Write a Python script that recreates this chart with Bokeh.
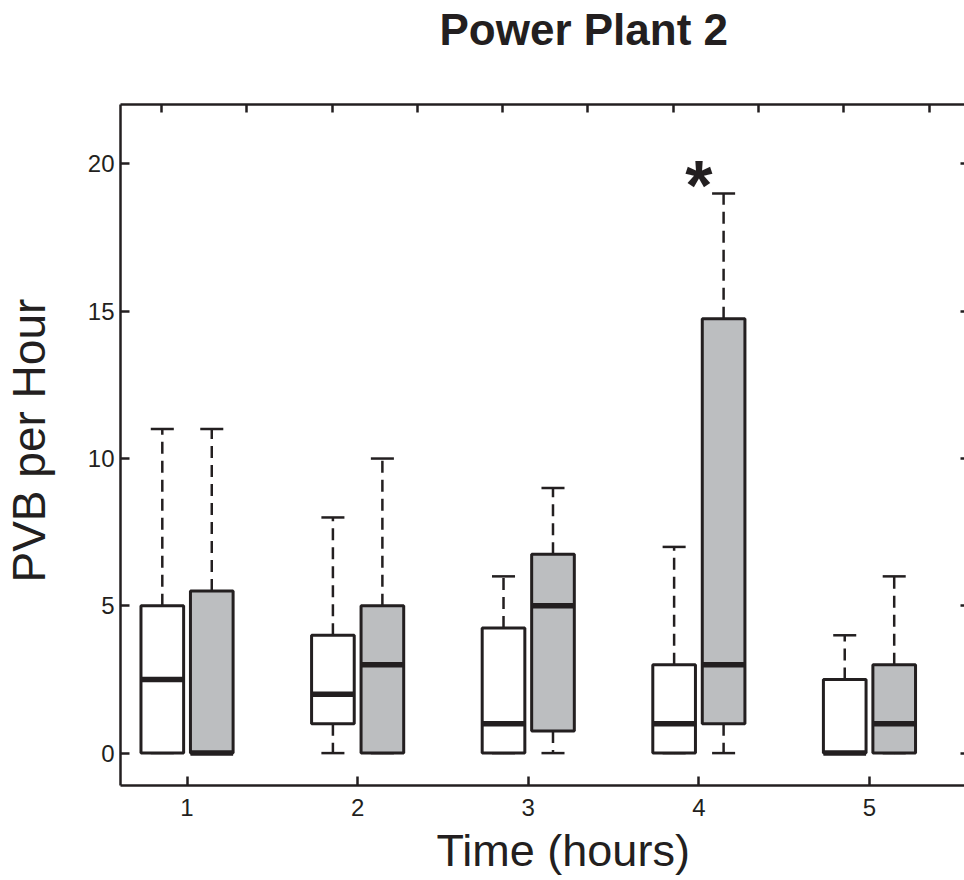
from bokeh.plotting import figure
from bokeh.models import LinearAxis, FixedTicker, Title, Range1d, ColumnDataSource
from bokeh.core.properties import value
from bokeh.embed import file_html
from bokeh.resources import INLINE

# ---- data ----
hours = [1, 2, 3, 4, 5]
# first (white) series
white_min = [0, 0, 0, 0, 0]
white_q1 = [0, 1, 0, 0, 0]
white_med = [2.5, 2, 1, 1, 0]
white_q3 = [5, 4, 4.25, 3, 2.5]
white_max = [11, 8, 6, 7, 4]
# second (grey) series
grey_min = [0, 0, 0, 0, 0]
grey_q1 = [0, 0, 0.75, 1, 0]
grey_med = [0, 3, 5, 3, 1]
grey_q3 = [5.5, 5, 6.75, 14.75, 3]
grey_max = [11, 10, 9, 19, 6]
y_ticks = [0, 5, 10, 15, 20]
top_ticks = [0.85, 1.35, 1.85, 2.35, 2.85, 3.35, 3.85, 4.35, 4.85, 5.35]
sig_hour = 4

# ---- styling ----
INK = "#231f20"
GREY = "#bcbec0"
FONT = "Liberation Sans"
BOX_W = 0.25
OFFSET = 0.145
CAP_W = 0.135

p = figure(width=964, height=880, output_backend="svg", toolbar_location=None,
           x_range=Range1d(0.61, 5.557), y_range=Range1d(-1.10, 22.02),
           min_border_left=120, min_border_right=0, min_border_top=104,
           min_border_bottom=94)
p.outline_line_color = None
p.grid.visible = False
p.background_fill_color = "white"
p.border_fill_color = "white"

def draw(series_min, q1, med, q3, series_max, shift, fill):
    xs = [h + shift for h in hours]
    src = ColumnDataSource(dict(
        x=xs,
        left=[x - BOX_W / 2 for x in xs],
        right=[x + BOX_W / 2 for x in xs],
        cl=[x - CAP_W / 2 for x in xs],
        cr=[x + CAP_W / 2 for x in xs],
        mn=series_min, q1=q1, med=med, q3=q3, mx=series_max))
    # whiskers (dashed)
    p.segment(x0="x", y0="q3", x1="x", y1="mx", source=src,
              line_color=INK, line_width=2.5, line_dash="12 7")
    p.segment(x0="x", y0="q1", x1="x", y1="mn", source=src,
              line_color=INK, line_width=2.5, line_dash="12 7")
    # caps
    p.segment(x0="cl", y0="mx", x1="cr", y1="mx", source=src,
              line_color=INK, line_width=2.5)
    p.segment(x0="cl", y0="mn", x1="cr", y1="mn", source=src,
              line_color=INK, line_width=2.5)
    # boxes
    p.quad(left="left", right="right", bottom="q1", top="q3", source=src,
           fill_color=fill, line_color=INK, line_width=3)
    # medians
    p.segment(x0="left", y0="med", x1="right", y1="med", source=src,
              line_color=INK, line_width=5.5)

draw(white_min, white_q1, white_med, white_q3, white_max, -OFFSET, "white")
draw(grey_min, grey_q1, grey_med, grey_q3, grey_max, OFFSET, GREY)

# significance marker
p.text(x=[sig_hour], y=[grey_max[sig_hour - 1] + 0.25], text=["*"],
       text_align="center", text_baseline="alphabetic",
       text_font=value(FONT), text_font_size="70px", text_font_style="bold",
       text_color=INK)

# ---- axes ----
def style_axis(ax, tick_len):
    ax.axis_line_color = INK
    ax.axis_line_width = 2.5
    ax.major_tick_line_color = INK
    ax.major_tick_line_width = 2.5
    ax.major_tick_in = tick_len
    ax.major_tick_out = 0
    ax.minor_tick_line_color = None
    ax.major_label_text_font = FONT
    ax.major_label_text_color = INK
    ax.major_label_text_font_size = "24px"

xa = p.xaxis[0]
style_axis(xa, 9)
xa.ticker = FixedTicker(ticks=hours)
xa.major_label_standoff = 13

ya = p.yaxis[0]
style_axis(ya, 9)
ya.ticker = FixedTicker(ticks=y_ticks)
ya.major_label_standoff = 6

top = LinearAxis(ticker=FixedTicker(ticks=top_ticks))
style_axis(top, 8)
top.major_label_overrides = {t: "" for t in top_ticks}
top.major_label_standoff = 0
p.add_layout(top, "above")

right = LinearAxis(ticker=FixedTicker(ticks=y_ticks))
style_axis(right, 4)
right.axis_line_color = None
right.major_label_overrides = {t: "" for t in y_ticks}
right.major_label_standoff = 0
p.add_layout(right, "right")

# ---- titles (panels stack outward from the frame) ----
def spacer(gap):
    return Title(text=" ", text_font=FONT, text_font_size="10px",
                 text_color="white", standoff=gap)

# main title: spacer then title above the top axis
p.add_layout(spacer(38), "above")
p.add_layout(Title(text="Power Plant 2", align="left", offset=319,
                   vertical_align="bottom", standoff=0,
                   text_font=FONT, text_font_size="44px",
                   text_font_style="bold", text_color=INK), "above")

# x label below the x axis
p.add_layout(Title(text="Time (hours)", align="left", offset=316,
                   vertical_align="bottom", standoff=9,
                   text_font=FONT, text_font_size="45px",
                   text_font_style="normal", text_color=INK), "below")

# y label left of the y axis
p.add_layout(spacer(17), "left")
p.add_layout(Title(text="PVB per Hour", align="left", offset=203,
                   vertical_align="bottom", standoff=0,
                   text_font=FONT, text_font_size="46px",
                   text_font_style="normal", text_color=INK), "left")

open("out.html", "w").write(file_html(p, INLINE))
